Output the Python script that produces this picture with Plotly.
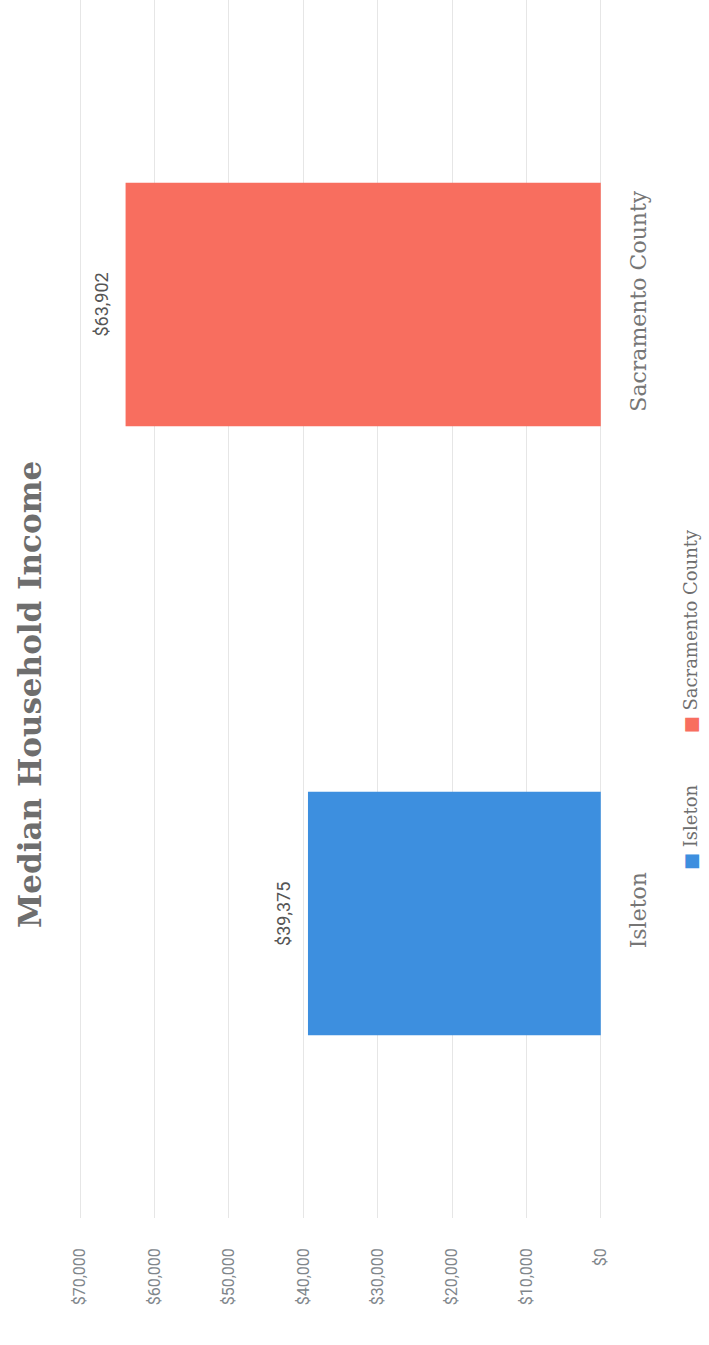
import plotly.graph_objects as go

categories = ["Isleton", "Sacramento County"]
values = [39375, 63902]
bar_colors = ["#3d8fdf", "#f86e5f"]
value_labels = ["$39,375", "$63,902"]
tick_values = [0, 10000, 20000, 30000, 40000, 50000, 60000, 70000]
tick_labels = ["$0", "$10,000", "$20,000", "$30,000", "$40,000", "$50,000", "$60,000", "$70,000"]
title_text = "Median Household Income"

W, H = 709, 1345
ML, MR, MT, MB = 78, 106, 0, 127
PW, PH = W - ML - MR, H - MT - MB

fig = go.Figure()
fig.add_trace(go.Bar(
    y=categories, x=values, orientation="h",
    marker=dict(color=bar_colors, line=dict(width=0)),
    width=0.4, showlegend=False, hoverinfo="skip",
))

for c, v, t in zip(categories, values, value_labels):
    fig.add_annotation(x=v, y=c, xref="x", yref="y", text=t, showarrow=False,
                       textangle=-90, xanchor="right", yanchor="middle", xshift=-12,
                       font=dict(family="Roboto", size=18, color="#555555"))

def px_x(p):
    return (p - ML) / PW

def px_y(p):
    return 1 - (p - MT) / PH

fig.add_annotation(x=px_x(30), y=px_y(695), xref="paper", yref="paper",
                   text="<b>" + title_text + "</b>", showarrow=False, textangle=-90,
                   xanchor="center", yanchor="middle",
                   font=dict(family="DejaVu Serif", size=31, color="#6e6e6e"))

legend_text = ("<span style='color:%s'>■</span> %s" + "&nbsp;" * 9 + "<span style='color:%s'>■</span> %s") % (
    bar_colors[0], categories[0], bar_colors[1], categories[1])
fig.add_annotation(x=px_x(690), y=px_y(700), xref="paper", yref="paper",
                   text=legend_text, showarrow=False, textangle=-90,
                   xanchor="center", yanchor="middle",
                   font=dict(family="DejaVu Serif", size=18, color="#6e6e6e"))

fig.update_layout(
    width=W, height=H,
    margin=dict(l=ML, r=MR, t=MT, b=MB),
    paper_bgcolor="white", plot_bgcolor="white",
    bargap=0.6,
)
fig.update_xaxes(
    range=[70300, -300], tickvals=tick_values, ticktext=tick_labels,
    tickangle=-90, ticklabelstandoff=26, showgrid=True, gridcolor="#e6e6e6", gridwidth=1,
    zeroline=False, showline=False, ticks="",
    tickfont=dict(family="Roboto", size=16, color="#80868b"),
)
fig.update_yaxes(
    type="category", side="right", tickangle=-90, showgrid=False, zeroline=False,
    showline=False, ticks="", ticklabelstandoff=20,
    tickfont=dict(family="DejaVu Serif", size=22, color="#767676"),
)

fig.write_html("out.html", config={"displayModeBar": False},
               post_script="document.body.style.margin='0';document.body.style.overflow='hidden';")
